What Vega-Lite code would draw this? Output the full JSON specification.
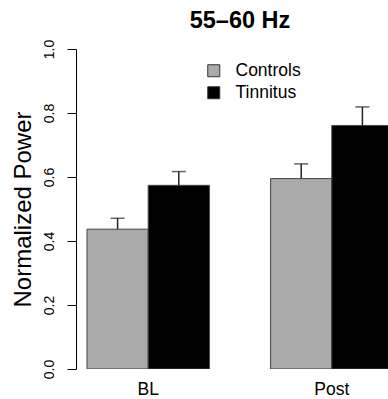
{
  "$schema": "https://vega.github.io/schema/vega-lite/v6.json",
  "width": 312,
  "height": 320,
  "autosize": {"type": "none"},
  "padding": {"left": 76, "top": 49, "right": 0, "bottom": 30},
  "background": "white",
  "config": {
    "view": {"stroke": null},
    "font": "Liberation Sans"
  },
  "title": {
    "text": "55–60 Hz",
    "fontSize": 23.5,
    "fontWeight": "bold",
    "color": "black",
    "anchor": "middle",
    "frame": "group",
    "dx": 8,
    "offset": 7
  },
  "data": {
    "values": [
      {"period": "BL", "group": "Controls", "value": 0.437, "upper": 0.471},
      {"period": "BL", "group": "Tinnitus", "value": 0.574, "upper": 0.617},
      {"period": "Post", "group": "Controls", "value": 0.595, "upper": 0.641},
      {"period": "Post", "group": "Tinnitus", "value": 0.761, "upper": 0.819}
    ]
  },
  "encoding": {
    "x": {
      "field": "period",
      "type": "nominal",
      "scale": {"domain": ["BL", "Post"], "range": [11, 317], "paddingInner": 0.3333, "paddingOuter": 0},
      "axis": {"title": null, "domain": false, "ticks": false, "labelAngle": 0, "labelFontSize": 17.5, "labelColor": "black", "labelPadding": 11}
    },
    "xOffset": {
      "field": "group",
      "type": "nominal",
      "scale": {"domain": ["Controls", "Tinnitus"], "paddingInner": 0, "paddingOuter": 0}
    }
  },
  "layer": [
    {
      "mark": {"type": "bar", "clip": true, "stroke": "#444444", "strokeWidth": 1},
      "encoding": {
        "y": {
          "field": "value",
          "type": "quantitative",
          "scale": {"domain": [0, 1], "nice": false, "zero": true},
          "axis": {
            "title": "Normalized Power",
            "titleFontSize": 24,
            "titleFontWeight": "normal",
            "titleColor": "black",
            "titlePadding": 7,
            "values": [0, 0.2, 0.4, 0.6, 0.8, 1.0],
            "format": ".1f",
            "labelAngle": -90,
            "labelFontSize": 14,
            "labelColor": "black",
            "labelPadding": 11,
            "tickSize": 9,
            "tickColor": "black",
            "domainColor": "black",
            "grid": false
          }
        },
        "fill": {
          "field": "group",
          "type": "nominal",
          "scale": {"domain": ["Controls", "Tinnitus"], "range": ["#AAAAAA", "#000000"]},
          "legend": {
            "title": null,
            "orient": "none",
            "legendX": 129,
            "legendY": 13,
            "symbolType": "square",
            "symbolSize": 144,
            "symbolStrokeColor": "#333333",
            "symbolStrokeWidth": 1,
            "labelFontSize": 17.5,
            "labelColor": "black",
            "labelOffset": 13,
            "rowPadding": 3
          }
        }
      }
    },
    {
      "mark": {"type": "rule", "color": "#222222", "strokeWidth": 1.5},
      "encoding": {
        "y": {"field": "value", "type": "quantitative"},
        "y2": {"field": "upper"}
      }
    },
    {
      "mark": {"type": "tick", "color": "#222222", "thickness": 1.5, "size": 14},
      "encoding": {
        "y": {"field": "upper", "type": "quantitative"}
      }
    }
  ]
}
